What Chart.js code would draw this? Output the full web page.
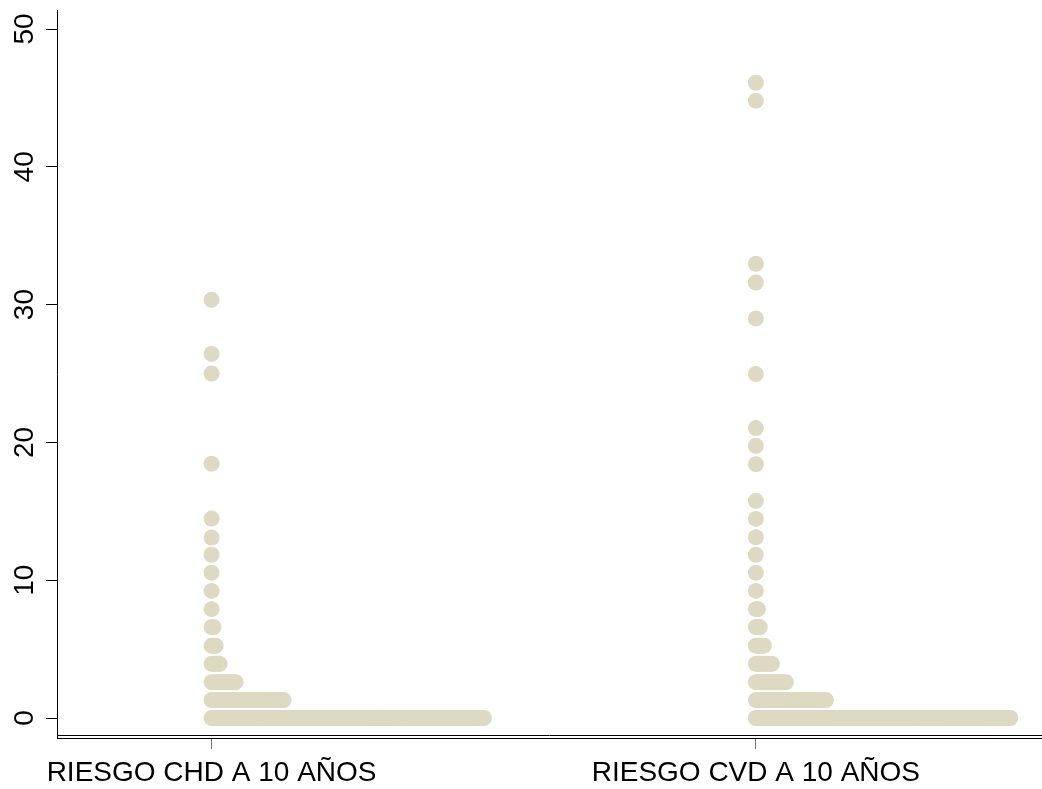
<!DOCTYPE html>
<html>
<head>
<meta charset="utf-8">
<script src="https://cdn.jsdelivr.net/npm/chart.js@4/dist/chart.umd.min.js"></script>
<style>
html,body{margin:0;padding:0;background:#fff;}
#wrap{width:1042px;height:789px;position:relative;}
</style>
</head>
<body>
<div id="wrap"><canvas id="c" width="1042" height="789"></canvas></div>
<script>
// Group labels (x categories)
const categories = ['RIESGO CHD A 10 AÑOS', 'RIESGO CVD A 10 AÑOS'];
// Dot-plot rows: bin value and number of observations in that bin
const chdValues = [0, 1.3, 2.6, 3.93, 5.25, 6.6, 7.9, 9.22, 10.55, 11.85, 13.1, 14.47, 18.46, 25.0, 26.42, 30.35];
const chdCounts = [137, 37, 13, 5, 3, 2, 1, 1, 1, 1, 1, 1, 1, 1, 1, 1];
const cvdValues = [0, 1.3, 2.6, 3.93, 5.25, 6.6, 7.9, 9.22, 10.55, 11.84, 13.12, 14.45, 15.76, 18.42, 19.75, 21.04, 24.96, 29.0, 31.6, 32.96, 44.8, 46.1];
const cvdCounts = [128, 36, 16, 9, 5, 3, 2, 1, 1, 1, 1, 1, 1, 1, 1, 1, 1, 1, 1, 1, 1, 1];
const yTickValues = [0, 10, 20, 30, 40, 50];

// dot-plot layout: each observation shifts the dot slightly to the right
const DOT_STEP = 0.00368;
function expand(groupPos, values, counts) {
  const pts = [];
  values.forEach((v, i) => {
    for (let j = 0; j < counts[i]; j++) pts.push({ x: groupPos + j * DOT_STEP, y: v });
  });
  return pts;
}

const FONT = '"Liberation Sans", Arial, sans-serif';
const dotColor = 'rgb(221,217,195)';

const doubleLine = {
  id: 'doubleLine',
  afterDraw(chart) {
    const { ctx, chartArea } = chart;
    ctx.save();
    ctx.strokeStyle = '#000';
    ctx.lineWidth = 1;
    const y = Math.round(chartArea.bottom - 3) + 0.5;
    ctx.beginPath();
    ctx.moveTo(chartArea.left, y);
    ctx.lineTo(chartArea.right, y);
    ctx.stroke();
    ctx.restore();
  }
};

function noPad(scale) {
  scale.paddingTop = 0; scale.paddingBottom = 0;
  scale.paddingLeft = 0; scale.paddingRight = 0;
}

new Chart(document.getElementById('c'), {
  type: 'scatter',
  data: {
    datasets: [
      { label: categories[0], data: expand(1, chdValues, chdCounts), backgroundColor: dotColor, borderWidth: 0, pointRadius: 8, pointHoverRadius: 8 },
      { label: categories[1], data: expand(2, cvdValues, cvdCounts), backgroundColor: dotColor, borderWidth: 0, pointRadius: 8, pointHoverRadius: 8 }
    ]
  },
  options: {
    responsive: false,
    animation: false,
    events: [],
    layout: { autoPadding: false, padding: { top: 10, left: 0, right: 0, bottom: 0 } },
    plugins: { legend: { display: false }, tooltip: { enabled: false } },
    scales: {
      x: {
        type: 'linear',
        min: 0.716,
        max: 2.5257,
        afterBuildTicks(scale) { scale.ticks = [{ value: 1 }, { value: 2 }]; },
        afterFit(scale) { scale.height = 51; noPad(scale); },
        ticks: {
          autoSkip: false,
          maxRotation: 0,
          padding: 7,
          color: '#000',
          font: { family: FONT, size: 28 },
          callback: (v) => categories[Math.round(v) - 1]
        },
        grid: { drawOnChartArea: false, drawTicks: true, tickLength: 11, color: '#707070', lineWidth: 1 },
        border: { display: true, color: '#000', width: 1 }
      },
      y: {
        type: 'linear',
        min: -1.45,
        max: 51.38,
        afterBuildTicks(scale) { scale.ticks = yTickValues.map(v => ({ value: v })); },
        afterFit(scale) { scale.width = 57; noPad(scale); },
        ticks: {
          autoSkip: false,
          minRotation: 90,
          maxRotation: 90,
          crossAlign: 'center',
          padding: 5,
          color: '#000',
          font: { family: FONT, size: 28 }
        },
        grid: { drawOnChartArea: false, drawTicks: true, tickLength: 11, color: '#000', lineWidth: 1 },
        border: { display: true, color: '#000', width: 1 }
      }
    }
  },
  plugins: [doubleLine]
});
</script>
</body>
</html>
